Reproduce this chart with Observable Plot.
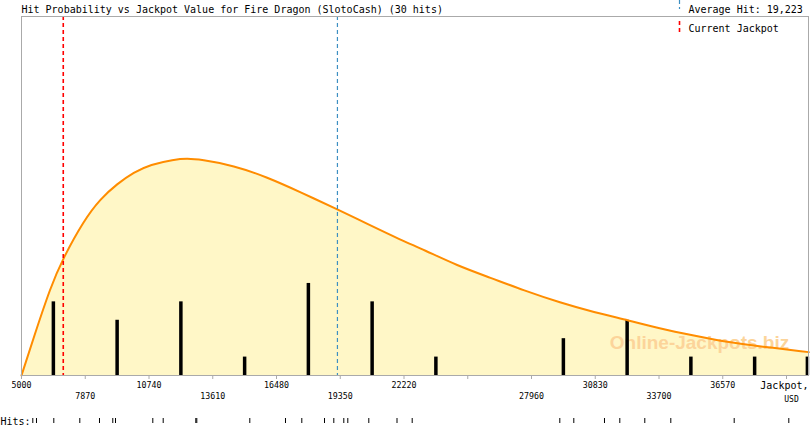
<!DOCTYPE html>
<html>
<head>
<meta charset="utf-8">
<script src="https://cdn.jsdelivr.net/npm/d3@7"></script>
<script src="https://cdn.jsdelivr.net/npm/@observablehq/plot@0.6"></script>
<style>
  html, body { margin: 0; padding: 0; background: #fff; }
  #chart svg { display: block; }
</style>
</head>
<body>
<div id="chart"></div>
<script>
// ---- data ----
const titleText = "Hit Probability vs Jackpot Value for Fire Dragon (SlotoCash) (30 hits)";
const averageHit = 19223;
const currentJackpot = 6880;

// histogram bars: jackpot value (USD) and number of hits
const barValues = [6435, 9305, 12175, 15045, 17915, 20785, 23655, 29395, 32265, 35135, 38005, 40380];
const barCounts = [4, 3, 4, 1, 5, 4, 1, 2, 3, 1, 1, 1];

// fitted probability curve (in hit units)
const curveX = [5000, 5554, 6306, 6859, 7805, 8556, 9308, 10056, 10807, 11856, 12460, 13058, 14557, 16061, 17560, 19257, 20563, 22062, 23111, 24614, 26113, 27613, 29265, 30764, 32340, 33767, 35266, 36770, 38269, 40443];
const curveY = [0, 2.08, 4.80, 6.34, 8.42, 9.60, 10.41, 11.04, 11.46, 11.73, 11.79, 11.73, 11.41, 10.77, 9.96, 9.00, 8.24, 7.37, 6.83, 5.97, 5.31, 4.62, 3.95, 3.44, 2.99, 2.54, 2.17, 1.81, 1.58, 1.27];

// individual hits (USD)
const hits = [5509, 5675, 6454, 7625, 8511, 9110, 9232, 10911, 11379, 12847, 12892, 15278, 16885, 17619, 18641, 19060, 19510, 19690, 20635, 21905, 22589, 29234, 29864, 31246, 31935, 33060, 34231, 37085, 39543];

// axis ticks
const allTicks = [5000, 7870, 10740, 13610, 16480, 19350, 22220, 25090, 27960, 30830, 33700, 36570, 39440];
const topRowTicks = [5000, 10740, 16480, 22220, 30830, 36570];
const bottomRowTicks = [7870, 13610, 19350, 27960, 33700];

const bars = barValues.map((v, i) => ({x: v, n: barCounts[i]}));
const curve = curveX.map((v, i) => ({x: v, y: curveY[i]}));

const mono = "DejaVu Sans Mono";

const chart = Plot.plot({
  width: 810,
  height: 425,
  marginLeft: 21,
  marginRight: 2,
  marginTop: 16,
  marginBottom: 50,
  style: {fontFamily: mono, background: "#fff"},
  x: {domain: [5000, 40430]},
  y: {domain: [0, 19.5], axis: null},
  marks: [
    Plot.areaY(curve, {x: "x", y: "y", fill: "#fff7c7", curve: "basis"}),
    Plot.text(["Online-Jackpots.biz"], {
      frameAnchor: "bottom-right", text: d => d, dx: -109, dy: -27,
      textAnchor: "middle", fontFamily: "Liberation Sans", fontWeight: "bold",
      fontSize: 19, fill: "#fcd49a"
    }),
    Plot.ruleX(bars, {x: "x", y: "n", stroke: "#000", strokeWidth: 3.5}),
    Plot.line(curve, {x: "x", y: "y", stroke: "#ff8c00", strokeWidth: 2, curve: "basis"}),
    Plot.ruleX([currentJackpot], {stroke: "#ff0000", strokeDasharray: "4,3", strokeWidth: 1.6}),
    Plot.ruleX([averageHit], {stroke: "#3d8fc2", strokeDasharray: "4,3", strokeWidth: 1.2}),
    Plot.frame({stroke: "#aaa"}),
    Plot.axisX({
      ticks: allTicks, tickSize: 4, tickPadding: 3, stroke: "#aaa", fill: "#000",
      fontSize: 8.3, tickFormat: d => topRowTicks.includes(d) ? String(d) : "", label: null
    }),
    Plot.axisX({
      ticks: bottomRowTicks, tickSize: 0, tickPadding: 18, fill: "#000",
      fontSize: 8.3, tickFormat: d => String(d), label: null
    }),
    // hits strip
    Plot.ruleX(hits, {x: d => d, stroke: "#000", strokeWidth: 1, insetTop: 402, insetBottom: -48}),
    Plot.text(["Hits:"], {frameAnchor: "bottom-left", text: d => d, dx: -21, dy: 49, lineAnchor: "bottom", textAnchor: "start", fontSize: 10}),
    // title
    Plot.text([titleText], {frameAnchor: "top-left", text: d => d, dy: -4, lineAnchor: "bottom", textAnchor: "start", fontSize: 10}),
    // legend
    Plot.text(["Average Hit: 19,223"], {frameAnchor: "top-right", text: d => d, dx: -120, dy: -4, lineAnchor: "bottom", textAnchor: "start", fontSize: 10}),
    Plot.text(["Current Jackpot"], {frameAnchor: "top-right", text: d => d, dx: -120, dy: 15, lineAnchor: "bottom", textAnchor: "start", fontSize: 10}),
    // axis label
    Plot.text(["Jackpot,"], {frameAnchor: "bottom-right", text: d => d, dx: 0, dy: 13, lineAnchor: "bottom", textAnchor: "end", fontSize: 10}),
    Plot.text(["USD"], {frameAnchor: "bottom-right", text: d => d, dx: -17, dy: 26, lineAnchor: "bottom", textAnchor: "middle", fontSize: 8})
  ]
});

document.getElementById("chart").appendChild(chart);

// legend line samples
const svg = d3.select(chart);
svg.append("line").attr("x1", 679.5).attr("x2", 679.5).attr("y1", 0).attr("y2", 9)
  .attr("stroke", "#3d8fc2").attr("stroke-width", 1.2).attr("stroke-dasharray", "4,3");
svg.append("line").attr("x1", 679.5).attr("x2", 679.5).attr("y1", 21).attr("y2", 33)
  .attr("stroke", "#ff0000").attr("stroke-width", 1.6).attr("stroke-dasharray", "4,3");
</script>
</body>
</html>
